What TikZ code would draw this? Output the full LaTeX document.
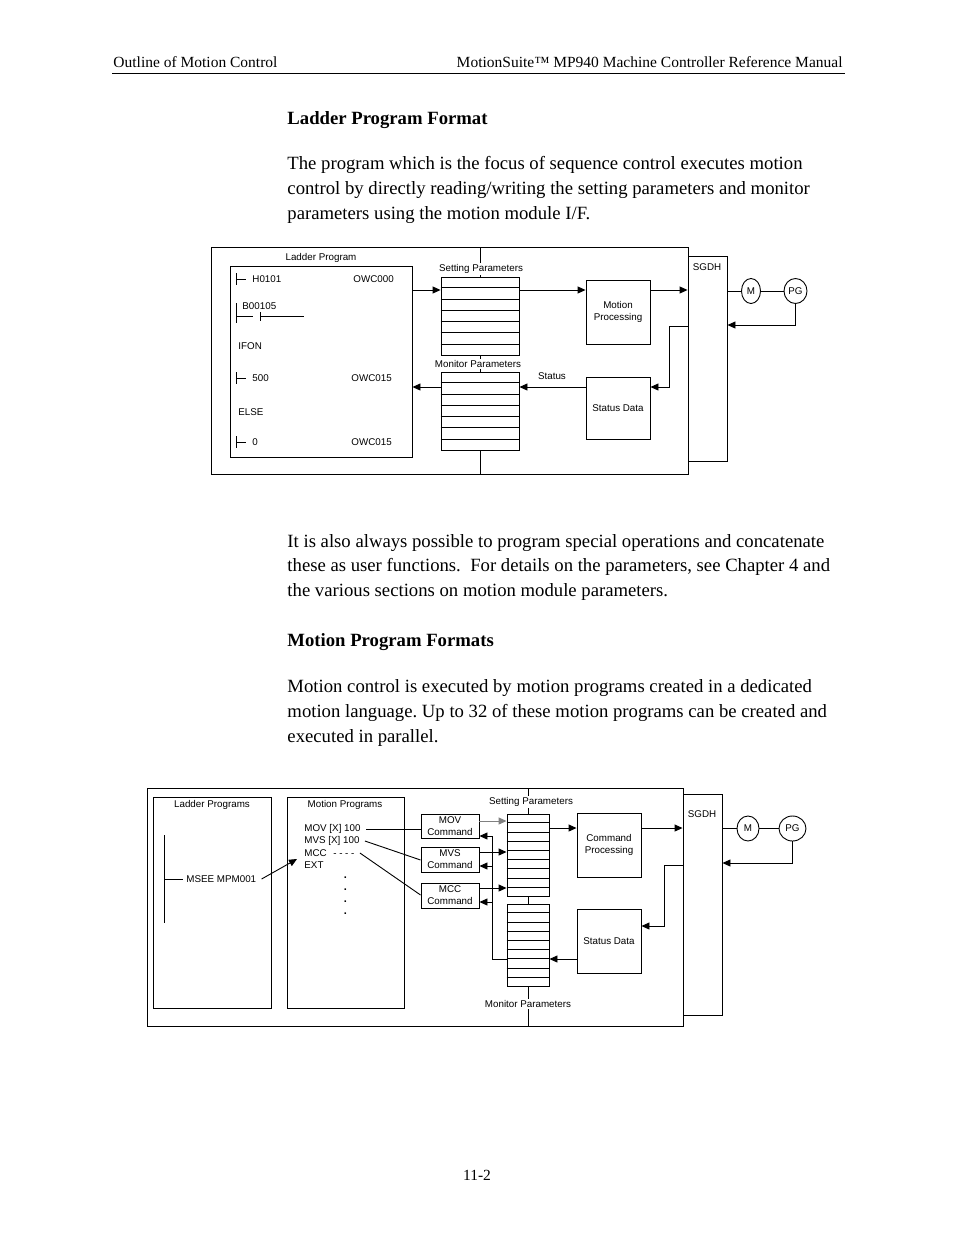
\documentclass[tikz,border=0pt]{standalone}
\usepackage{fontspec}
\setmainfont{Liberation Serif}
\newfontfamily\dsans{Liberation Sans}
\usetikzlibrary{arrows.meta,calc,shapes.geometric}
\frenchspacing
\begin{document}
\begin{tikzpicture}[x=1pt,y=-1pt,
  line width=0.9pt,
  body/.style={anchor=west,inner sep=0pt,font=\fontsize{18.7}{22}\selectfont},
  head/.style={anchor=west,inner sep=0pt,font=\fontsize{18.7}{22}\selectfont\bfseries},
  hdr/.style={inner sep=0pt,font=\fontsize{15.5}{18}\selectfont},
  lbl/.style={inner sep=0pt,font=\dsans\fontsize{9.8}{12}\selectfont},
  lblw/.style={lbl,fill=white,inner xsep=1pt,inner ysep=1.5pt},
  blk/.style={draw,inner sep=0pt,align=center,font=\dsans\fontsize{9.8}{12}\selectfont},
  mot/.style={draw,ellipse,inner sep=0pt,font=\dsans\fontsize{9.8}{12}\selectfont},
  arr/.style={-{Triangle[length=8pt,width=7pt]}},
]
\useasboundingbox (0,0) rectangle (954,1235);
\fill[white] (0,0) rectangle (954,1235);

% ---------- page text ----------
\node[hdr,anchor=west] (h1) at (113,62) {Outline of Motion Control};
\node[hdr,anchor=east] (h2) at (843,62) {MotionSuite™ MP940 Machine Controller Reference Manual};
\coordinate (hl) at (112,73);
\coordinate (hr) at (845,73);
\draw (hl) -- (hr);

\node[head] (t1) at (287,120) {Ladder Program Format};
\node[body] (p1) at (287,165) {The program which is the focus of sequence control executes motion};
\node[body] (p2) at (287,190) {control by directly reading/writing the setting parameters and monitor};
\node[body] (p3) at (287,215) {parameters using the motion module I/F.};

\node[body] (q1) at (287,543) {It is also always possible to program special operations and concatenate};
\node[body] (q2) at (287,567) {these as user functions.\ \ For details on the parameters, see Chapter 4 and};
\node[body] (q3) at (287,592) {the various sections on motion module parameters.};

\node[head] (t2) at (287,642) {Motion Program Formats};
\node[body] (r1) at (287,688) {Motion control is executed by motion programs created in a dedicated};
\node[body] (r2) at (287,713) {motion language. Up to 32 of these motion programs can be created and};
\node[body] (r3) at (287,738) {executed in parallel.};

\node[hdr] (pg) at (477,1175) {11-2};

% ---------- top diagram ----------
\node[blk,minimum width=477,minimum height=227] (outA) at (449.5,360.5) {};
\node[blk,minimum width=182,minimum height=191] (ladA) at (321,361.5) {};
\node[lbl] (ladAt) at (321,258) {Ladder Program};

\node[blk,minimum width=78,minimum height=78] (setA) at (480,316) {};
\node[blk,minimum width=78,minimum height=78] (monA) at (480,411) {};
\foreach \k in {1,...,6}{
  \draw ($(setA.north west)!\k/7!(setA.south west)$) -- ($(setA.north east)!\k/7!(setA.south east)$);
  \draw ($(monA.north west)!\k/7!(monA.south west)$) -- ($(monA.north east)!\k/7!(monA.south east)$);
}
\node[blk,minimum width=64,minimum height=64] (mpA) at (618,312) {Motion\\Processing};
\node[blk,minimum width=64,minimum height=62] (sdA) at (618,408) {Status Data};
\node[blk,minimum width=39,minimum height=205] (sgA) at (707.5,358.5) {};
\node[lbl] (sgAt) at (707,267) {SGDH};
\node[mot,minimum width=19,minimum height=25] (mA) at (751,291) {M};
\node[mot,minimum width=23,minimum height=25] (pgA) at (795.5,291) {PG};

\draw (setA.north) -- (setA.north |- outA.north);
\draw (setA.south) -- (monA.north);
\draw (monA.south) -- (monA.south |- outA.south);
\node[lblw] (setAt) at (481,269) {Setting Parameters};
\node[lblw] (monAt) at (478,364) {Monitor Parameters};

\draw[arr] (ladA.east |- 0,290) -- (setA.west |- 0,290);
\draw[arr] (setA.east |- 0,290) -- (mpA.west |- 0,290);
\draw[arr] (mpA.east |- 0,290) -- (sgA.west |- 0,290);
\draw (sgA.east |- mA.west) -- (mA.west);
\draw (mA.east) -- (pgA.west);
\draw[arr] (pgA.south) |- (sgA.east |- 0,325);
\draw[arr] (sgA.west |- 0,326) -- ++(-18,0) |- (sdA.east |- 0,387);
\draw[arr] (sdA.west |- 0,387) -- (monA.east |- 0,387);
\node[lbl] (stat) at (552,376) {Status};
\draw[arr] (monA.west |- 0,387) -- (ladA.east |- 0,387);

% ladder contents
\draw (236,273) -- (236,285) (236,279) -- (246,279);
\node[lbl,anchor=west] (l1) at (252,279) {H0101};
\node[lbl,anchor=west] (l1o) at (353,279) {OWC000};
\draw (236,303) -- (236,323) (236,316) -- (253,316) (260,312) -- (260,321) (260,316) -- (304,316);
\node[lbl,anchor=west] (l2) at (242,306) {B00105};
\node[lbl,anchor=west] (l3) at (238,346) {IFON};
\draw (236,372) -- (236,384) (236,378) -- (246,378);
\node[lbl,anchor=west] (l4) at (252,378) {500};
\node[lbl,anchor=west] (l4o) at (351,378) {OWC015};
\node[lbl,anchor=west] (l5) at (238,412) {ELSE};
\draw (236,436) -- (236,448) (236,442) -- (246,442);
\node[lbl,anchor=west] (l6) at (252,442) {0};
\node[lbl,anchor=west] (l6o) at (351,442) {OWC015};

% ---------- bottom diagram ----------
\node[blk,minimum width=536,minimum height=238] (outB) at (415,907) {};
\node[blk,minimum width=118,minimum height=211] (ladB) at (212,902.5) {};
\node[blk,minimum width=117,minimum height=211] (mpB) at (345.5,902.5) {};
\node[lbl] (ladBt) at (212,805) {Ladder Programs};
\node[lbl] (mpBt) at (345,805) {Motion Programs};

\node[blk,minimum width=58,minimum height=24] (movB) at (450,826) {MOV\\Command};
\node[blk,minimum width=58,minimum height=25] (mvsB) at (450,859.5) {MVS\\Command};
\node[blk,minimum width=58,minimum height=25] (mccB) at (450,895.5) {MCC\\Command};

\node[blk,minimum width=42,minimum height=82] (setB) at (528,855) {};
\node[blk,minimum width=42,minimum height=82] (monB) at (528,945) {};
\foreach \k in {1,...,8}{
  \draw ($(setB.north west)!\k/9!(setB.south west)$) -- ($(setB.north east)!\k/9!(setB.south east)$);
  \draw ($(monB.north west)!\k/9!(monB.south west)$) -- ($(monB.north east)!\k/9!(monB.south east)$);
}
\node[blk,minimum width=64,minimum height=64] (cpB) at (609,845) {Command\\Processing};
\node[blk,minimum width=64,minimum height=64] (sdB) at (609,941) {Status Data};
\node[blk,minimum width=39,minimum height=221] (sgB) at (702.5,904.5) {};
\node[lbl] (sgBt) at (702,814) {SGDH};
\node[mot,minimum width=22,minimum height=25] (mB) at (748,828.5) {M};
\node[mot,minimum width=27,minimum height=25] (pgB) at (792.5,828.5) {PG};

\draw (setB.north) -- (setB.north |- outB.north);
\draw (setB.south) -- (monB.north);
\draw (monB.south) -- (monB.south |- outB.south);
\node[lblw] (setBt) at (531,802) {Setting Parameters};
\node[lblw] (monBt) at (528,1004) {Monitor Parameters};

% ladder programs
\coordinate (lv1) at (164,835);
\coordinate (lv2) at (164,923);
\draw (lv1) -- (lv2);
\node[lbl,anchor=west] (msee) at (186,879) {MSEE MPM001};
\draw (msee.west -| lv1) -- ([xshift=-3pt]msee.west);
\coordinate (mpin) at (297,859);
\draw[arr] ([xshift=5pt]msee.east) -- (mpin);

% motion program list
\node[lbl,anchor=west] (mov) at (304,829) {MOV [X] 100};
\node[lbl,anchor=west] (mvs) at (304,841) {MVS [X] 100};
\node[lbl,anchor=west] (mcc) at (304,853) {MCC\hspace{6.5pt}- - - -};
\node[lbl,anchor=west] (ext) at (304,865) {EXT};
\foreach \yy/\nm in {877/d1,889/d2,901/d3,913/d4}
  \node[lbl,anchor=base,font=\dsans\bfseries\fontsize{11}{12}\selectfont] (\nm) at (345.5,\yy+1.5) {.};

\draw ([xshift=5pt]mov.east) -- (movB.west |- 0,829);
\draw ([xshift=5pt]mvs.east) -- (mvsB.west |- 0,860);
\draw ([xshift=5pt]mcc.east) -- (mccB.west |- 0,895);

\draw[arr,gray] (movB.east |- 0,821) -- (setB.west |- 0,821);
\draw[arr] (mvsB.east |- 0,852) -- (setB.west |- 0,852);
\draw[arr] (mccB.east |- 0,888) -- (setB.west |- 0,888);

\coordinate (rv) at (492,959);
\draw (monB.west |- rv) -- (rv) -- (rv |- 0,836);
\draw[arr] (rv |- 0,836) -- (movB.east |- 0,836);
\draw[arr] (rv |- 0,866) -- (mvsB.east |- 0,866);
\draw[arr] (rv |- 0,902) -- (mccB.east |- 0,902);

\draw[arr] (setB.east |- 0,828) -- (cpB.west |- 0,828);
\draw[arr] (cpB.east |- 0,828) -- (sgB.west |- 0,828);
\draw (sgB.east |- mB.west) -- (mB.west);
\draw (mB.east) -- (pgB.west);
\draw[arr] (pgB.south) |- (sgB.east |- 0,863);
\draw[arr] (sgB.west |- 0,865) -- ++(-18,0) |- (sdB.east |- 0,926);
\draw[arr] (sdB.west |- 0,959) -- (monB.east |- 0,959);
\end{tikzpicture}
\end{document}
